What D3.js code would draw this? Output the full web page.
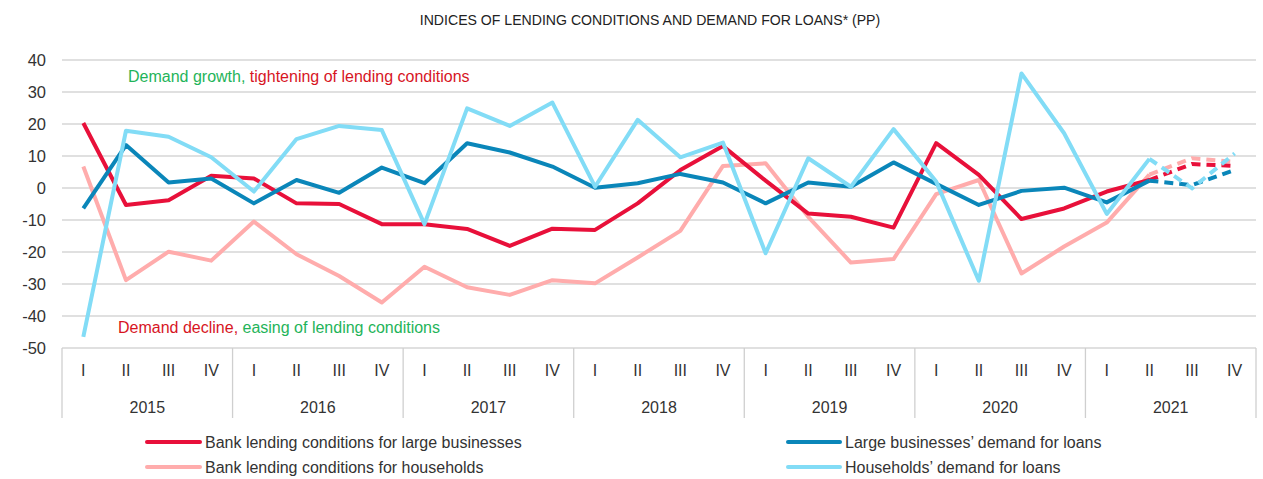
<!DOCTYPE html>
<html>
<head>
<meta charset="utf-8">
<script src="https://cdn.jsdelivr.net/npm/d3@7"></script>
<style>
  html, body { margin: 0; padding: 0; background: #fff; }
  svg { display: block; }
  text { font-family: "Liberation Sans Narrow", "Arial Narrow", "Liberation Sans", sans-serif; }
</style>
</head>
<body>
<svg id="chart" width="1263" height="479"></svg>
<script>
const years = ["2015", "2016", "2017", "2018", "2019", "2020", "2021"];
const quarters = ["I", "II", "III", "IV"];
const yTicks = [40, 30, 20, 10, 0, -10, -20, -30, -40, -50];

const lendingLarge = [20.3, -5.3, -3.8, 3.8, 3, -4.8, -5, -11.3, -11.3, -12.8, -18.1, -12.7, -13.1, -4.8, 5.6, 13.1, 2.3, -8, -9, -12.4, 14, 4.1, -9.7, -6.4, -1.1, 2.5, 7.5, 6.9];
const lendingHouseholds = [6.7, -28.8, -19.9, -22.7, -10.5, -20.7, -27.5, -35.8, -24.6, -31, -33.4, -28.8, -29.8, -21.7, -13.4, 6.9, 7.7, -9, -23.3, -22.2, -1.9, 2.5, -26.7, -18.3, -10.8, 4.2, 9.3, 8.2];
const demandLarge = [-6.4, 13.4, 1.7, 3, -4.8, 2.5, -1.5, 6.4, 1.5, 14, 11.1, 6.7, 0.1, 1.5, 4.4, 1.7, -4.8, 1.7, 0.4, 8, 1.3, -5.3, -0.9, 0.1, -4.5, 2.3, 0.9, 5.6];
const demandHouseholds = [-46.5, 17.9, 16, 9.6, -1.1, 15.3, 19.4, 18.1, -11.3, 24.9, 19.4, 26.7, 0.4, 21.3, 9.6, 14.2, -20.4, 9.3, 0.4, 18.4, 2, -29, 35.8, 17.1, -8.1, 9.1, -0.1, 10.8];

const seriesNames = [
  "Bank lending conditions for large businesses",
  "Bank lending conditions for households",
  "Large businesses\u2019 demand for loans",
  "Households\u2019 demand for loans"
];
const seriesColors = ["#e8103a", "#ffacac", "#0a86b9", "#82dcf6"];
const forecastStart = 25; // 2021 II onwards dashed

const title = "INDICES OF LENDING CONDITIONS AND DEMAND FOR LOANS* (PP)";

(function () {
const svg = d3.select("#chart");
const mLeft = 62, mRight = 1256, mTop = 60, mBottom = 348;

const periods = [];
years.forEach(yr => quarters.forEach(q => periods.push(yr + "-" + q)));

const x = d3.scaleBand().domain(periods).range([mLeft, mRight]).padding(0);
const y = d3.scaleLinear().domain([-50, 40]).range([mBottom, mTop]);
const cx = p => x(p) + x.bandwidth() / 2;

// title
svg.append("text").attr("x", 650).attr("y", 25).attr("text-anchor", "middle")
  .attr("font-size", 14.1).attr("fill", "#222").text(title);

// gridlines
svg.append("g").selectAll("line").data(yTicks).join("line")
  .attr("x1", mLeft).attr("x2", mRight)
  .attr("y1", d => y(d)).attr("y2", d => y(d))
  .attr("stroke", "#d6d6d6").attr("stroke-width", 1.6);

// y labels
svg.append("g").selectAll("text").data(yTicks).join("text")
  .attr("x", 46).attr("y", d => y(d)).attr("dy", "0.35em")
  .attr("text-anchor", "end").attr("font-size", 16.5).attr("fill", "#333")
  .text(d => d);

// category axis box
const axG = svg.append("g");
const boxBottom = 418;
const yearBounds = years.map(yr => x(yr + "-I"));
yearBounds.push(mRight);
axG.selectAll("line.sep").data(yearBounds).join("line")
  .attr("x1", d => d).attr("x2", d => d).attr("y1", mBottom).attr("y2", boxBottom)
  .attr("stroke", "#cfcfcf").attr("stroke-width", 1.3);
axG.selectAll("text.q").data(periods).join("text")
  .attr("x", d => cx(d)).attr("y", 376).attr("text-anchor", "middle")
  .attr("font-size", 16).attr("fill", "#333")
  .text(d => d.split("-")[1]);
axG.selectAll("text.yr").data(years).join("text")
  .attr("x", d => x(d + "-I") + x.bandwidth() * 2).attr("y", 413).attr("text-anchor", "middle")
  .attr("font-size", 16).attr("fill", "#333")
  .text(d => d);

// annotations
const a1 = svg.append("text").attr("x", 128).attr("y", 82).attr("font-size", 16);
a1.append("tspan").attr("fill", "#1fb45a").text("Demand growth, ");
a1.append("tspan").attr("fill", "#d7151f").text("tightening of lending conditions");
const a2 = svg.append("text").attr("x", 118).attr("y", 333).attr("font-size", 16);
a2.append("tspan").attr("fill", "#d7151f").text("Demand decline, ");
a2.append("tspan").attr("fill", "#1fb45a").text("easing of lending conditions");

// lines
const allSeries = [lendingLarge, lendingHouseholds, demandLarge, demandHouseholds];
const line = d3.line().x(d => cx(d.p)).y(d => y(d.v));
const drawOrder = [1, 0, 2, 3];
drawOrder.forEach(i => {
  const pts = allSeries[i].map((v, k) => ({ p: periods[k], v }));
  svg.append("path").datum(pts.slice(0, forecastStart + 1))
    .attr("d", line).attr("fill", "none").attr("stroke", seriesColors[i])
    .attr("stroke-width", 4).attr("stroke-linejoin", "round");
  svg.append("path").datum(pts.slice(forecastStart))
    .attr("d", line).attr("fill", "none").attr("stroke", seriesColors[i])
    .attr("stroke-width", 4).attr("stroke-dasharray", "9,6");
});

// legend
const legendItems = [
  { i: 0, x1: 147, x2: 200, y: 442 },
  { i: 1, x1: 147, x2: 200, y: 467 },
  { i: 2, x1: 788, x2: 840, y: 442 },
  { i: 3, x1: 788, x2: 840, y: 467 }
];
const lg = svg.append("g");
legendItems.forEach(it => {
  lg.append("line").attr("x1", it.x1).attr("x2", it.x2).attr("y1", it.y).attr("y2", it.y)
    .attr("stroke", seriesColors[it.i]).attr("stroke-width", 4).attr("stroke-linecap", "round");
  lg.append("text").attr("x", it.x2 + 5).attr("y", it.y).attr("dy", "0.35em")
    .attr("font-size", 16).attr("fill", "#333").text(seriesNames[it.i]);
});
})();
</script>
</body>
</html>
